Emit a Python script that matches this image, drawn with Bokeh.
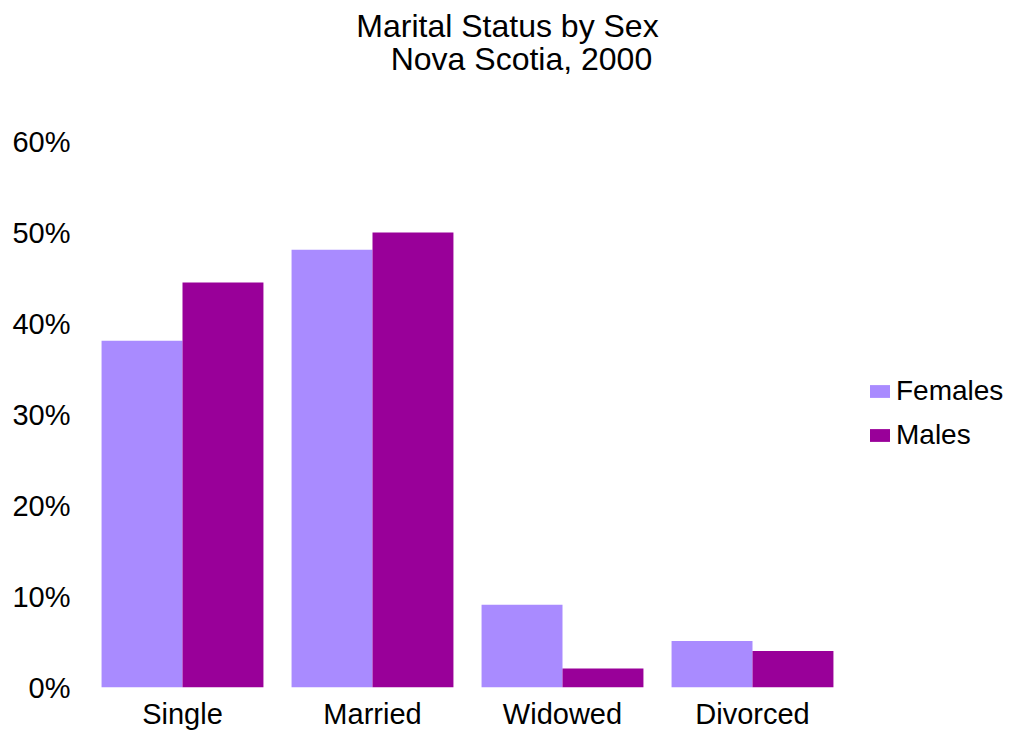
from bokeh.plotting import figure
from bokeh.models import ColumnDataSource, FactorRange, Range1d, Legend, LegendItem, Label, FixedTicker, PrintfTickFormatter
from bokeh.transform import dodge
from bokeh.embed import file_html
from bokeh.resources import INLINE

categories = ["Single", "Married", "Widowed", "Divorced"]
females = [38.1, 48.1, 9.1, 5.1]
males = [44.5, 50.0, 2.1, 4.0]
series = ["Females", "Males"]
colors = ["#A98BFF", "#990099"]
y_ticks = [0, 10, 20, 30, 40, 50, 60]
title_lines = ["Marital Status by Sex", "Nova Scotia, 2000"]

FONT = "Liberation Sans"

src = ColumnDataSource(dict(cat=categories, Females=females, Males=males))

FRAME_H = 687          # frame spans from the top of the canvas to the 0% line
PX_PER_UNIT = 546 / 60
y_top = FRAME_H / PX_PER_UNIT

p = figure(frame_width=760, frame_height=FRAME_H, output_backend="svg", toolbar_location=None,
           x_range=FactorRange(*categories, range_padding=0), y_range=Range1d(0, y_top),
           min_border_left=87, min_border_top=0, min_border_bottom=40, min_border_right=150)
p.outline_line_color = None
p.grid.visible = False

r1 = p.vbar(x=dodge("cat", -0.213, range=p.x_range), top="Females", width=0.426,
            source=src, color=colors[0], line_color=None)
r2 = p.vbar(x=dodge("cat", 0.213, range=p.x_range), top="Males", width=0.426,
            source=src, color=colors[1], line_color=None)

for ax in (p.xaxis[0], p.yaxis[0]):
    ax.axis_line_color = None
    ax.major_tick_line_color = None
    ax.minor_tick_line_color = None
    ax.major_label_text_font = FONT
    ax.major_label_text_font_size = "29px"
    ax.major_label_text_color = "black"

p.yaxis.ticker = FixedTicker(ticks=y_ticks)
p.yaxis.formatter = PrintfTickFormatter(format="%d%%")
p.yaxis.major_label_standoff = 11
p.xaxis.major_label_standoff = 4

legend = Legend(items=[LegendItem(label=series[0], renderers=[r1]),
                       LegendItem(label=series[1], renderers=[r2])],
                location=(20, 236), margin=0, padding=0, border_line_color=None,
                background_fill_alpha=0, glyph_width=25, glyph_height=16,
                label_standoff=4, spacing=12, label_text_font=FONT,
                label_text_font_size="28px", label_text_color="black")
p.add_layout(legend, "right")

# title lines, placed in data coordinates above the 60% line
p.add_layout(Label(x=2.2105, y=662 / PX_PER_UNIT, text=title_lines[0],
                   text_align="center", text_baseline="alphabetic", text_font=FONT,
                   text_font_size="32px", text_color="black"))
p.add_layout(Label(x=2.284, y=629 / PX_PER_UNIT, text=title_lines[1],
                   text_align="center", text_baseline="alphabetic", text_font=FONT,
                   text_font_size="32px", text_color="black"))

open("out.html", "w").write(file_html(p, INLINE))
